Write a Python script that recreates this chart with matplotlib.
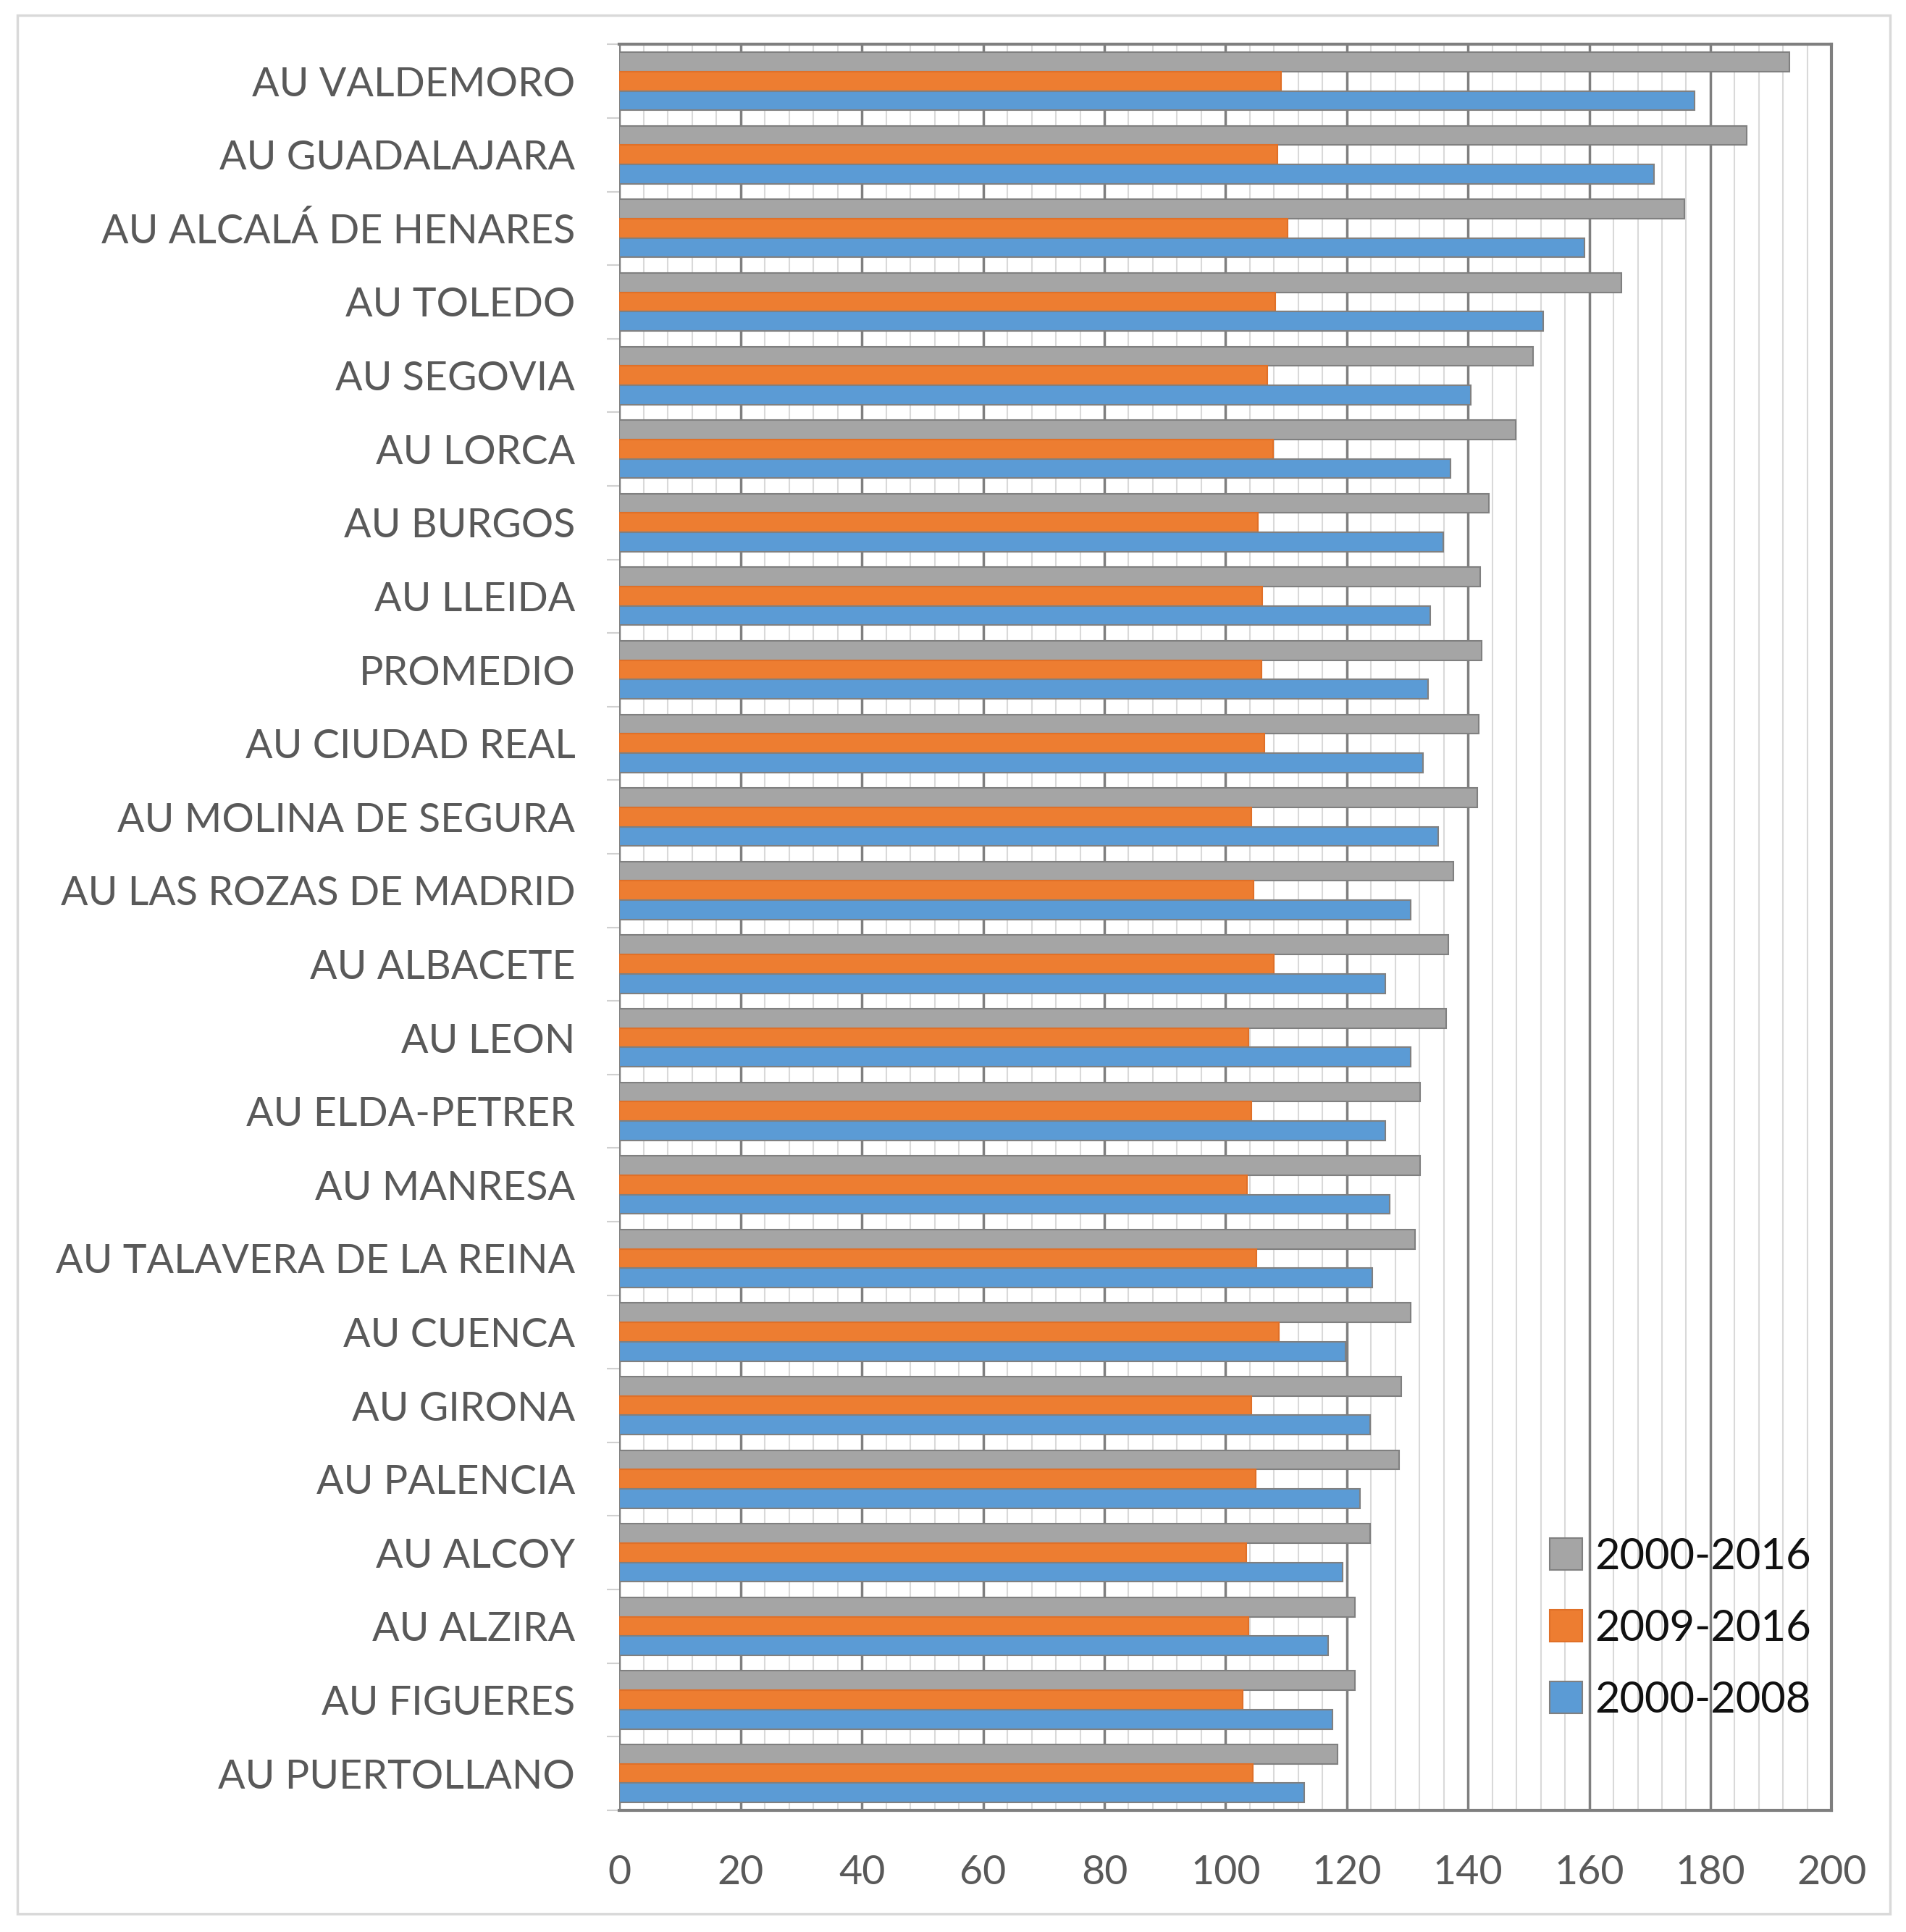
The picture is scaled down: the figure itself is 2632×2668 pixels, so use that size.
import numpy as np
import matplotlib
matplotlib.use("Agg")
import matplotlib.pyplot as plt
from matplotlib.patches import Rectangle

plt.rcParams['font.family'] = ['Lato', 'DejaVu Sans']

labels = [
    "AU VALDEMORO", "AU GUADALAJARA", "AU ALCALÁ DE HENARES", "AU TOLEDO",
    "AU SEGOVIA", "AU LORCA", "AU BURGOS", "AU LLEIDA", "PROMEDIO",
    "AU CIUDAD REAL", "AU MOLINA DE SEGURA", "AU LAS ROZAS DE MADRID",
    "AU ALBACETE", "AU LEON", "AU ELDA-PETRER", "AU MANRESA",
    "AU TALAVERA DE LA REINA", "AU CUENCA", "AU GIRONA", "AU PALENCIA",
    "AU ALCOY", "AU ALZIRA", "AU FIGUERES", "AU PUERTOLLANO",
]
v_2000_2016 = [193.0, 186.0, 175.7, 165.3, 150.7, 147.9, 143.4, 142.0, 142.2,
               141.8, 141.5, 137.6, 136.8, 136.4, 132.1, 132.1, 131.3, 130.6,
               129.0, 128.6, 123.8, 121.4, 121.4, 118.5]
v_2009_2016 = [109.1, 108.6, 110.2, 108.2, 106.9, 107.8, 105.3, 106.1, 105.9,
               106.4, 104.3, 104.6, 108.0, 103.8, 104.3, 103.5, 105.1, 108.8,
               104.2, 105.0, 103.4, 103.8, 102.8, 104.5]
v_2000_2008 = [177.4, 170.7, 159.2, 152.4, 140.4, 137.1, 135.9, 133.8, 133.4,
               132.6, 135.1, 130.5, 126.4, 130.5, 126.4, 127.1, 124.2, 119.8,
               123.8, 122.2, 119.3, 116.9, 117.6, 113.0]
series_names = ["2000-2016", "2009-2016", "2000-2008"]
colors = ["#A5A5A5", "#ED7D31", "#5B9BD5"]

fig = plt.figure(figsize=(26.32, 26.68), dpi=100)
ax = fig.add_axes([0.325, 0.063, 0.636, 0.914])

y = np.arange(len(labels))
h = 0.263
for k, (vals, name, col) in enumerate(zip([v_2000_2016, v_2009_2016, v_2000_2008],
                                          series_names, colors)):
    edge = "#808080" if col != "#ED7D31" else "#E07028"
    ax.barh(y + (k - 1) * h, vals, height=h, color=col, edgecolor=edge,
            linewidth=1.5, label=name, zorder=3)

ax.set_xlim(0, 200)
ax.set_ylim(len(labels) - 0.5, -0.5)

ax.set_xticks(np.arange(0, 201, 20))
ax.set_xticks(np.arange(0, 201, 4), minor=True)
ax.set_yticks(y)
ax.set_yticklabels(labels)
ax.set_yticks(np.arange(-0.5, len(labels), 1), minor=True)

ax.grid(axis="x", which="minor", color="#D9D9D9", linewidth=1.5, zorder=0)
ax.grid(axis="x", which="major", color="#7F7F7F", linewidth=2.5, zorder=1)

ax.tick_params(axis="y", which="major", length=0, pad=44, labelsize=40,
               labelcolor="#595959")
ax.tick_params(axis="y", which="minor", length=12, width=1.5, color="#D0D0D0")
ax.tick_params(axis="x", which="major", length=0, pad=44, labelsize=40,
               labelcolor="#595959")
ax.tick_params(axis="x", which="minor", length=0)

for side in ["top", "right", "bottom"]:
    ax.spines[side].set_color("#7F7F7F")
    ax.spines[side].set_linewidth(3)
ax.spines["left"].set_visible(False)

leg = ax.legend(loc="lower left", bbox_to_anchor=(0.813, 0.110),
                bbox_transform=fig.transFigure, frameon=False, fontsize=43,
                handlelength=0.75, handleheight=0.75, handletextpad=0.3,
                labelspacing=0.75, borderpad=0, borderaxespad=0)
for t in leg.get_texts():
    t.set_color("#111111")

fig.patches.append(Rectangle((24 / 2632, 1 - 2643 / 2668), (2610 - 24) / 2632,
                             (2643 - 21) / 2668, transform=fig.transFigure,
                             fill=False, edgecolor="#D9D9D9", linewidth=2.5))

fig.savefig("out.png", dpi=100)
